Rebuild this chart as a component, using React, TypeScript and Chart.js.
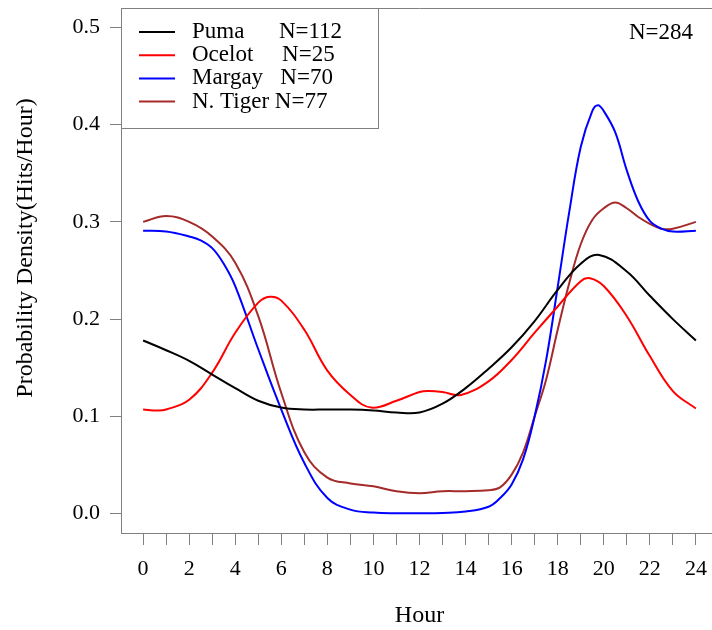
import React, { useEffect, useRef } from "react";
import { Chart, registerables } from "chart.js";

Chart.register(...registerables);

// ---- data ----
const hourTicks = [0, 1, 2, 3, 4, 5, 6, 7, 8, 9, 10, 11, 12, 13, 14, 15, 16, 17, 18, 19, 20, 21, 22, 23, 24];
const densityTicks = [0, 0.1, 0.2, 0.3, 0.4, 0.5];

const seriesNames = ["Puma", "Ocelot", "Margay", "N. Tiger"];
const legendLabels = ["Puma      N=112", "Ocelot     N=25", "Margay   N=70", "N. Tiger N=77"];
const totalLabel = "N=284";
const xTitle = "Hour";
const yTitle = "Probability Density(Hits/Hour)";

const pumaHours = [0, 1, 2, 3, 4, 5, 6, 7, 8, 9, 10, 11, 12, 13, 14, 15, 16, 17, 18, 19, 19.8, 21, 22, 23, 24];
const pumaDensity = [0.178, 0.168, 0.157, 0.143, 0.129, 0.116, 0.109, 0.107, 0.107, 0.107, 0.106, 0.104, 0.104, 0.113, 0.129, 0.149, 0.171, 0.198, 0.23, 0.257, 0.266, 0.249, 0.224, 0.2, 0.178];

const ocelotHours = [0, 0.6, 1, 2, 3, 4, 5, 5.5, 6, 7, 8, 9, 9.9, 11, 12, 12.4, 13, 13.8, 15, 16, 17, 18, 19, 19.4, 20, 21, 22, 23, 24];
const ocelotDensity = [0.107, 0.106, 0.107, 0.117, 0.145, 0.186, 0.217, 0.223, 0.219, 0.189, 0.147, 0.122, 0.109, 0.116, 0.125, 0.126, 0.125, 0.122, 0.136, 0.158, 0.186, 0.213, 0.239, 0.242, 0.234, 0.203, 0.162, 0.126, 0.108];

const margayHours = [0, 1, 2, 2.5, 3, 3.5, 4, 5, 6, 7, 8, 9, 10, 11, 12, 13, 14, 15, 15.5, 16, 16.5, 17, 17.5, 18, 18.5, 19, 19.5, 19.75, 20, 20.5, 21, 21.5, 22, 22.5, 23, 24];
const margayDensity = [0.291, 0.29, 0.285, 0.281, 0.273, 0.257, 0.234, 0.169, 0.107, 0.052, 0.016, 0.004, 0.001, 0.0003, 0.0003, 0.0006, 0.002, 0.007, 0.016, 0.03, 0.056, 0.1, 0.158, 0.233, 0.31, 0.377, 0.414, 0.42, 0.414, 0.392, 0.353, 0.321, 0.301, 0.293, 0.29, 0.291];

const tigerHours = [0, 1, 2, 3, 4, 5, 6, 7, 8, 9, 10, 11, 12, 13, 14, 15, 15.5, 16, 16.5, 17, 17.5, 18, 18.5, 19, 19.5, 20, 20.5, 21, 21.5, 22, 22.5, 23, 24];
const tigerDensity = [0.3, 0.306, 0.3, 0.285, 0.258, 0.203, 0.124, 0.063, 0.037, 0.031, 0.028, 0.023, 0.021, 0.023, 0.023, 0.024, 0.027, 0.04, 0.063, 0.1, 0.138, 0.189, 0.237, 0.277, 0.302, 0.314, 0.32, 0.314, 0.305, 0.298, 0.293, 0.293, 0.3];

const seriesColors = ["#000000", "#ff0000", "#0000ff", "#a52a2a"];

const FONT = "'Liberation Serif', 'Times New Roman', Times, serif";
const AXIS_GRAY = "#808080";

function toPoints(xs: number[], ys: number[]) {
  return xs.map((x, i) => ({ x, y: ys[i] }));
}

const framePlugin = {
  id: "framePlugin",
  afterDraw(chart: any) {
    const { ctx, chartArea } = chart;
    ctx.save();
    // top border of the plot box
    ctx.strokeStyle = AXIS_GRAY;
    ctx.lineWidth = 1;
    ctx.beginPath();
    ctx.moveTo(chartArea.left, chartArea.top + 0.5);
    ctx.lineTo(chartArea.right, chartArea.top + 0.5);
    ctx.stroke();

    // legend box
    const bx = chartArea.left;
    const by = chartArea.top;
    const bw = 257;
    const bh = 120;
    ctx.fillStyle = "#ffffff";
    ctx.fillRect(bx, by, bw, bh);
    ctx.strokeRect(bx + 0.5, by + 0.5, bw, bh);

    ctx.font = `23px ${FONT}`;
    ctx.textBaseline = "middle";
    ctx.textAlign = "left";
    chart.data.datasets.forEach((ds: any, i: number) => {
      const y = by + 24 + i * 23.2;
      ctx.strokeStyle = ds.borderColor;
      ctx.lineWidth = 2;
      ctx.beginPath();
      ctx.moveTo(bx + 18, y);
      ctx.lineTo(bx + 54, y);
      ctx.stroke();
      ctx.fillStyle = "#000000";
      ctx.fillText(legendLabels[i], bx + 71, y);
    });

    // total N
    ctx.textAlign = "right";
    ctx.fillStyle = "#000000";
    ctx.fillText(totalLabel, 693, by + 25);

    // y axis title
    ctx.translate(26, 248);
    ctx.rotate(-Math.PI / 2);
    ctx.textAlign = "center";
    ctx.textBaseline = "middle";
    ctx.font = `24px ${FONT}`;
    ctx.fillText(yTitle, 0, 0);
    ctx.restore();
  },
};

export default function App() {
  const canvasRef = useRef<HTMLCanvasElement | null>(null);

  useEffect(() => {
    if (!canvasRef.current) return;
    const datasets = [
      toPoints(pumaHours, pumaDensity),
      toPoints(ocelotHours, ocelotDensity),
      toPoints(margayHours, margayDensity),
      toPoints(tigerHours, tigerDensity),
    ].map((data, i) => ({
      label: seriesNames[i],
      data,
      borderColor: seriesColors[i],
      backgroundColor: seriesColors[i],
      borderWidth: 2,
      pointRadius: 0,
      tension: 0.4,
      fill: false,
    }));

    const chart = new Chart(canvasRef.current, {
      type: "line",
      data: { datasets },
      options: {
        animation: false,
        responsive: false,
        devicePixelRatio: 1,
        layout: { padding: { top: 8, left: 0, right: 2, bottom: 0 } },
        plugins: { legend: { display: false }, tooltip: { enabled: false } },
        scales: {
          x: {
            type: "linear",
            min: -0.96,
            max: 24.96,
            afterFit: (scale: any) => {
              scale.height = 97;
              scale.paddingLeft = 0;
              scale.paddingRight = 0;
            },
            afterBuildTicks: (scale: any) => {
              scale.ticks = hourTicks.map((v) => ({ value: v }));
            },
            ticks: {
              autoSkip: false,
              maxRotation: 0,
              padding: 11,
              color: "#000000",
              font: { family: FONT, size: 22 },
              callback: (v: any) => (Number(v) % 2 === 0 ? String(v) : ""),
            },
            grid: { drawOnChartArea: false, drawTicks: true, tickLength: 12, color: AXIS_GRAY },
            border: { display: true, color: AXIS_GRAY, width: 1 },
            title: {
              display: true,
              text: xTitle,
              color: "#000000",
              font: { family: FONT, size: 24 },
              padding: { top: 0, bottom: 0 },
            },
          },
          y: {
            type: "linear",
            min: -0.02,
            max: 0.52,
            afterFit: (scale: any) => {
              scale.width = 121;
              scale.paddingTop = 0;
              scale.paddingBottom = 0;
            },
            afterBuildTicks: (scale: any) => {
              scale.ticks = densityTicks.map((v) => ({ value: v }));
            },
            ticks: {
              padding: 10,
              color: "#000000",
              font: { family: FONT, size: 22 },
              callback: (v: any) => Number(v).toFixed(1),
            },
            grid: { drawOnChartArea: false, drawTicks: true, tickLength: 11, color: AXIS_GRAY },
            border: { display: true, color: AXIS_GRAY, width: 1 },
            title: { display: false },
          },
        },
      },
      plugins: [framePlugin],
    });
    return () => chart.destroy();
  }, []);

  return (
    <div style={{ position: "fixed", left: 0, top: 0, width: 712, height: 630, overflow: "hidden", background: "#ffffff" }}>
      <canvas ref={canvasRef} width={720} height={630} style={{ display: "block", width: 720, height: 630 }} />
    </div>
  );
}
